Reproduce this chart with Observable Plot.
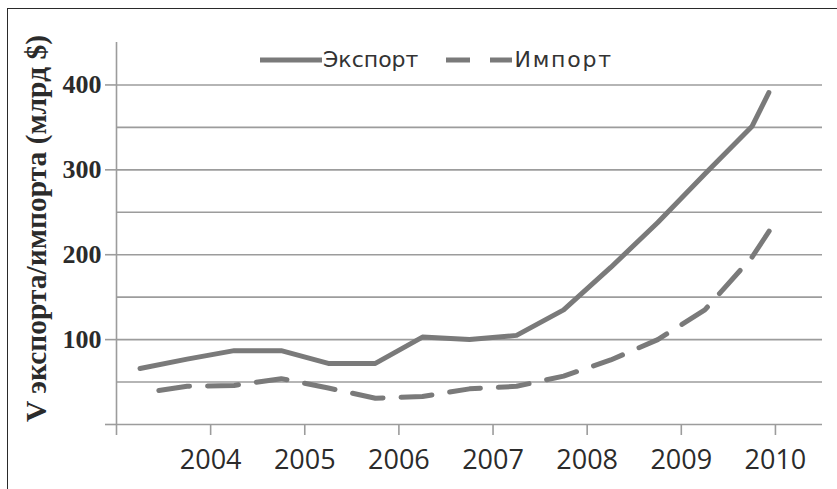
<!DOCTYPE html>
<html>
<head>
<meta charset="utf-8">
<script src="https://cdn.jsdelivr.net/npm/d3@7"></script>
<script src="https://cdn.jsdelivr.net/npm/@observablehq/plot@0.6"></script>
<style>
  html, body { margin: 0; padding: 0; background: #fff; overflow: hidden; }
  #wrap { position: relative; width: 837px; height: 489px; }
  #border { position: absolute; left: 7px; top: 8px; width: 900px; height: 600px;
            border-top: 1.5px solid #2a2a2a; border-left: 1.5px solid #2a2a2a; box-sizing: border-box; }
  #legend { position: absolute; left: 260px; top: 47px; display: flex; align-items: center;
            font-family: "DejaVu Sans", sans-serif; font-size: 22px; color: #333; }
  #legend svg { display: block; }
  #chart { position: absolute; left: 0; top: 0; }
</style>
</head>
<body>
<div id="wrap">
  <div id="border"></div>
  <div id="chart"></div>
  <div id="legend"></div>
</div>
<script>
// ---- data ----
const exportYears  = [2003.25, 2003.75, 2004.25, 2004.75, 2005.25, 2005.75, 2006.25, 2006.75, 2007.25, 2007.75, 2008.25, 2008.75, 2009.25, 2009.75, 2009.93];
const exportValues = [66, 77, 87, 87, 72, 72, 103, 100, 105, 135, 185, 238, 295, 351, 391];
const importYears  = [2003.45, 2003.75, 2004.25, 2004.75, 2005.25, 2005.75, 2006.25, 2006.75, 2007.25, 2007.75, 2008.25, 2008.75, 2009.25, 2009.75, 2010.0];
const importValues = [40, 45, 46, 54, 43, 31, 33, 42, 45, 57, 76, 100, 135, 197, 239];
const seriesNames  = ["Экспорт", "Импорт"];
const yTickValues  = [0, 100, 200, 300, 400];
const yGridValues  = [0, 50, 100, 150, 200, 250, 300, 350, 400];
const xTickValues  = [2003, 2004, 2005, 2006, 2007, 2008, 2009, 2010];
const xTickLabels  = ["", "2004", "2005", "2006", "2007", "2008", "2009", "2010"];
const yTitle = "V экспорта/импорта (млрд $)";

const lineColor = "#7a7a7a";
const gridColor = "#9c9c9c";
const dash = "31,18";

const exportData = exportYears.map((x, i) => ({x, y: exportValues[i]}));
const importData = importYears.map((x, i) => ({x, y: importValues[i]}));

const chart = Plot.plot({
  width: 837,
  height: 489,
  marginLeft: 116,
  marginRight: 15,
  marginTop: 42,
  marginBottom: 65,
  style: {background: "transparent", color: "#2b2b2b"},
  x: {domain: [2003, 2010.5]},
  y: {domain: [0, 450]},
  marks: [
    Plot.gridY(yGridValues, {stroke: gridColor, strokeOpacity: 1, strokeWidth: 1.6}),
    Plot.ruleX([xTickValues[0]], {stroke: gridColor, strokeWidth: 1.6}),
    Plot.axisY(yTickValues, {
      tickSize: 11, tickPadding: 4, stroke: gridColor, strokeWidth: 1.6,
      tickFormat: d => d === 0 ? "" : String(d),
      fontSize: 26, fontWeight: "bold", fontFamily: "Liberation Serif", label: null
    }),
    Plot.axisX(xTickValues, {
      tickSize: 11, tickPadding: 14, stroke: gridColor, strokeWidth: 1.6,
      tickFormat: d => xTickLabels[xTickValues.indexOf(d)],
      fontSize: 27, fontWeight: 500, fontFamily: "Open Sans", label: null
    }),
    Plot.text([yTitle], {
      frameAnchor: "left", textAnchor: "middle", rotate: -90, dx: -80, dy: -5,
      fontSize: 29.5, fontWeight: "bold", fontFamily: "Liberation Serif", fill: "#2b2b2b"
    }),
    Plot.line(importData, {x: "x", y: "y", stroke: lineColor, strokeWidth: 5, strokeDasharray: dash, strokeLinejoin: "round"}),
    Plot.line(exportData, {x: "x", y: "y", stroke: lineColor, strokeWidth: 5, strokeLinejoin: "round"})
  ]
});
document.getElementById("chart").appendChild(chart);

// legend
const legend = document.getElementById("legend");
legend.innerHTML =
  `<svg width="62" height="10"><line x1="0" x2="62" y1="5" y2="5" stroke="${lineColor}" stroke-width="5"/></svg>` +
  `<span style="margin-left:1px">${seriesNames[0]}</span>` +
  `<svg width="66" height="10" style="margin-left:28px"><line x1="0" x2="66" y1="5" y2="5" stroke="${lineColor}" stroke-width="5" stroke-dasharray="24,20"/></svg>` +
  `<span style="margin-left:2px; letter-spacing:1.8px">${seriesNames[1]}</span>`;
</script>
</body>
</html>
